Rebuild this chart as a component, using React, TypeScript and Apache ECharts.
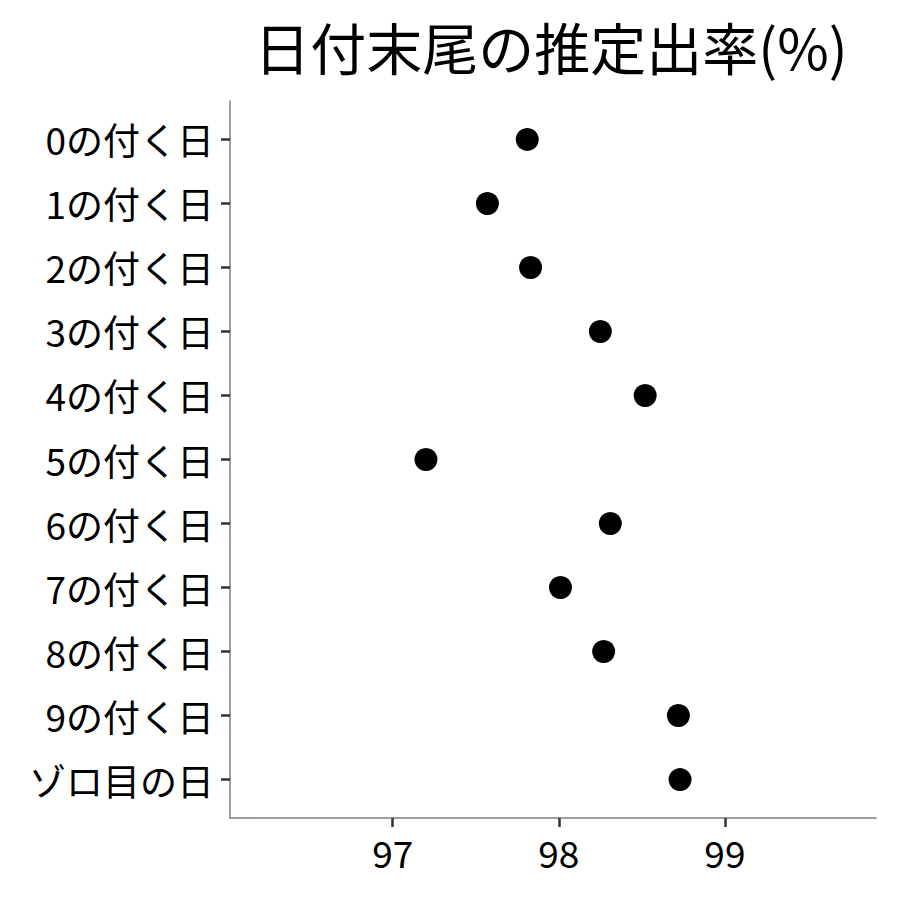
import React, { useEffect, useRef } from "react";
import * as echarts from "echarts";

const title = "日付末尾の推定出率(%)";
const categories = [
  "0の付く日",
  "1の付く日",
  "2の付く日",
  "3の付く日",
  "4の付く日",
  "5の付く日",
  "6の付く日",
  "7の付く日",
  "8の付く日",
  "9の付く日",
  "ゾロ目の日",
];
const rates = [97.81, 97.57, 97.83, 98.25, 98.52, 97.2, 98.31, 98.01, 98.27, 98.72, 98.73];
const xTicks = [97, 98, 99];

const FONT = "'Noto Sans CJK JP', 'Noto Sans', sans-serif";

export default function App() {
  const ref = useRef<HTMLDivElement>(null);
  useEffect(() => {
    if (!ref.current) return;
    const chart = echarts.init(ref.current, undefined, { renderer: "svg" });
    const yIdx = categories.map((_, i) => i);
    chart.setOption({
      animation: false,
      backgroundColor: "#ffffff",
      title: {
        text: title,
        left: 551,
        top: 15,
        padding: 0,
        textAlign: "center",
        textStyle: { fontFamily: FONT, fontSize: 56, lineHeight: 60, fontWeight: "normal", color: "#000" },
      },
      grid: { left: 230, right: 24, top: 101, bottom: 82 },
      xAxis: {
        type: "value",
        min: 96.02,
        max: 99.91,
        splitLine: { show: false },
        axisLine: { show: true, onZero: false, lineStyle: { color: "#7f7f7f", width: 1.5 } },
        axisTick: { show: true, customValues: xTicks, length: 9, lineStyle: { color: "#333", width: 2.5 } },
        axisLabel: {
          customValues: xTicks,
          margin: 15,
          fontFamily: FONT,
          fontSize: 37,
          color: "#000",
          formatter: (v: number) => String(Math.round(v)),
        },
      },
      yAxis: {
        type: "value",
        inverse: true,
        min: -0.6,
        max: categories.length - 0.4,
        splitLine: { show: false },
        axisLine: { show: true, onZero: false, lineStyle: { color: "#7f7f7f", width: 1.5 } },
        axisTick: { show: true, customValues: yIdx, length: 9, lineStyle: { color: "#333", width: 2.5 } },
        axisLabel: {
          customValues: yIdx,
          margin: 16,
          fontFamily: FONT,
          fontSize: 37,
          color: "#000",
          formatter: (v: number) => categories[Math.round(v)] ?? "",
        },
      },
      series: [
        {
          type: "scatter",
          symbol: "circle",
          symbolSize: 23,
          itemStyle: { color: "#000", opacity: 1 },
          data: rates.map((r, i) => [r, i]),
        },
      ],
    });
    return () => chart.dispose();
  }, []);
  return (
    <div
      ref={ref}
      style={{ position: "fixed", left: 0, top: 0, width: 900, height: 900 }}
    />
  );
}
